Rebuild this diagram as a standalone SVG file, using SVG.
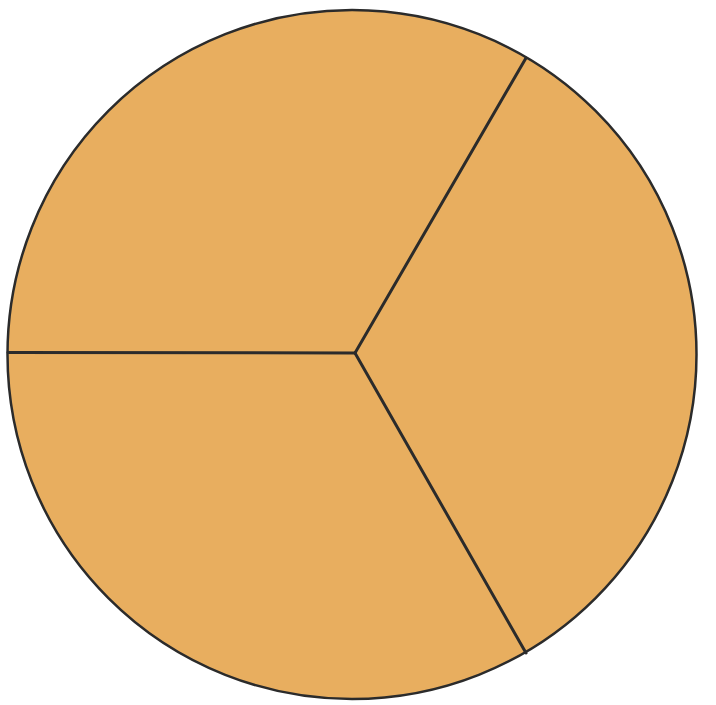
<svg xmlns="http://www.w3.org/2000/svg" width="716" height="705" viewBox="0 0 716 705">
<style>
.disc{fill:#E8AE5F;stroke:#2b2b2b;stroke-width:2.5}
.spoke{stroke:#2b2b2b;stroke-width:3;fill:none;stroke-linecap:round}
</style>
<rect width="716" height="705" fill="#ffffff"/>
<g id="circle"><circle class="disc" cx="352" cy="354.5" r="344.5"/></g>
<g id="connectors">
<line class="spoke" x1="355" y1="353" x2="8" y2="352.5"/>
<line class="spoke" x1="355" y1="353" x2="526" y2="58"/>
<line class="spoke" x1="355" y1="353" x2="526" y2="653"/>
</g>
</svg>
